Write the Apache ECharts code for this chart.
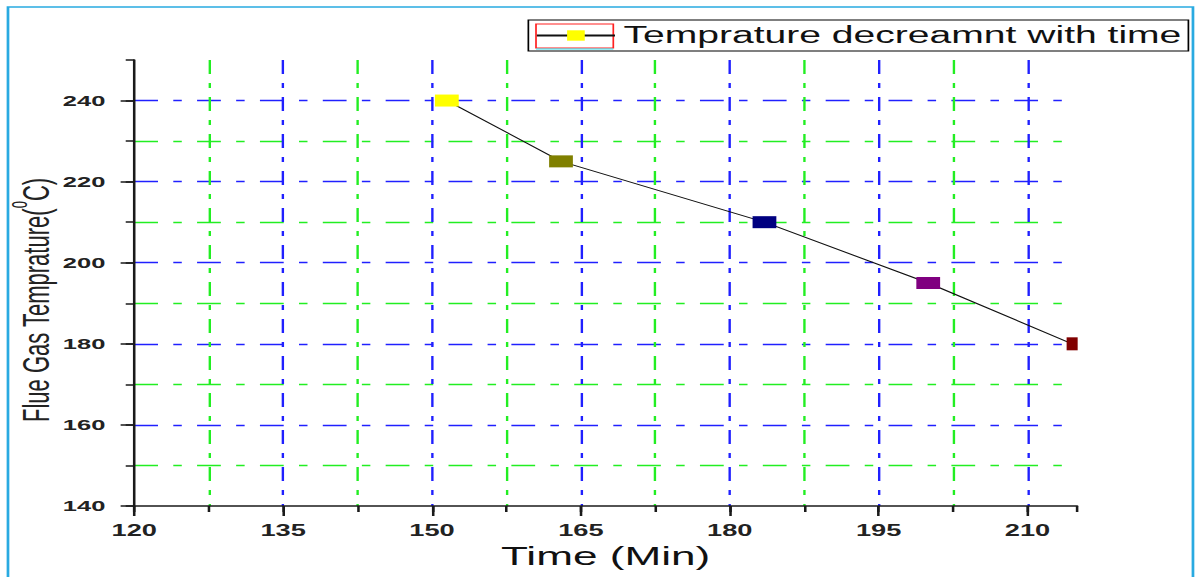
<!DOCTYPE html>
<html>
<head>
<meta charset="utf-8">
<title>Flue gas temperature</title>
<script src="https://cdn.jsdelivr.net/npm/echarts@6/dist/echarts.min.js"></script>
<style>
  html, body { margin: 0; padding: 0; background: #fff; overflow: hidden; }
  /* the source plot is a horizontally stretched export, so the chart is drawn narrow and stretched */
  #chart { width: 704px; height: 577px; transform: scaleX(1.6989); transform-origin: 0 0; }
</style>
</head>
<body>
<div id="chart"></div>
<script>
// data
const timeMin = [151.5, 163, 183.5, 200, 214.5];
const flueTemp = [240, 225, 210, 195, 180];
const markerColors = ["#ffff00", "#808000", "#000080", "#800080", "#800000"];

const FONT = "'Liberation Sans', Arial, sans-serif";
const BLUE = "#2020ff";
const GREEN = "#22ee22";
const DASH = [14, 9, 5, 9];

const chart = echarts.init(document.getElementById("chart"), null, { renderer: "svg" });

const option = {
  animation: false,
  backgroundColor: "#fff",
  grid: { left: 79, right: 70, top: 60, bottom: 71, outerBoundsMode: "none" },
  legend: {
    left: 311,
    top: 20,
    padding: [4, 4],
    itemWidth: 46,
    itemHeight: 13,
    itemGap: 5,
    borderColor: "#000",
    borderWidth: 1,
    borderRadius: 0,
    textStyle: { fontFamily: FONT, fontSize: 23, color: "#111", width: 340 },
    data: ["Temprature decreamnt with time"],
  },
  xAxis: [
    {
      type: "value",
      min: 120,
      max: 215,
      interval: 15,
      name: "Time (Min)",
      nameLocation: "middle",
      nameGap: 37,
      nameMoveOverlap: false,
      nameTextStyle: { fontFamily: FONT, fontSize: 26, color: "#111" },
      axisLine: { show: true, lineStyle: { color: "#1a1a1a", width: 1.5 } },
      axisTick: { show: true, length: 10, lineStyle: { color: "#1a1a1a", width: 1.5 } },
      axisLabel: {
        margin: 17,
        showMaxLabel: false,
        fontFamily: FONT,
        fontSize: 16,
        fontWeight: "bold",
        color: "#222",
      },
      splitLine: { show: false },
    },
    {
      // finer axis for the alternating grid and the short ticks
      type: "value",
      position: "bottom",
      offset: 0,
      min: 120,
      max: 215,
      interval: 7.5,
      axisLine: { show: false },
      axisTick: { show: true, length: 6, lineStyle: { color: "#1a1a1a", width: 1.5 } },
      axisLabel: { show: false },
      splitLine: {
        show: true,
        showMinLine: false,
        showMaxLine: false,
        lineStyle: { color: [GREEN, BLUE], width: 1.4, type: DASH },
      },
    },
  ],
  yAxis: [
    {
      type: "value",
      min: 140,
      max: 250,
      interval: 20,
      name: "{m|Flue Gas Temprature(}{sup|0}{m|C)}",
      nameLocation: "middle",
      nameGap: 47,
      nameMoveOverlap: false,
      nameTextStyle: {
        padding: [0, 34, 0, 0],
        rich: {
          m: { fontFamily: FONT, fontSize: 22, lineHeight: 27, color: "#222", verticalAlign: "bottom" },
          sup: { fontFamily: FONT, fontSize: 13, lineHeight: 13, color: "#222", verticalAlign: "top" },
        },
      },
      axisLine: { show: true, lineStyle: { color: "#1a1a1a", width: 1.5 } },
      axisTick: { show: true, length: 8, lineStyle: { color: "#1a1a1a", width: 1.5 } },
      axisLabel: {
        margin: 17,
        showMaxLabel: false,
        fontFamily: FONT,
        fontSize: 15,
        fontWeight: "bold",
        color: "#222",
      },
      splitLine: { show: false },
    },
    {
      type: "value",
      position: "left",
      offset: 0,
      min: 140,
      max: 250,
      interval: 10,
      axisLine: { show: false },
      axisTick: { show: true, length: 5, lineStyle: { color: "#1a1a1a", width: 1.5 } },
      axisLabel: { show: false },
      splitLine: {
        show: true,
        showMinLine: false,
        showMaxLine: false,
        lineStyle: { color: [GREEN, BLUE], width: 1.4, type: DASH },
      },
    },
  ],
  series: [
    {
      name: "Temprature decreamnt with time",
      type: "line",
      xAxisIndex: 0,
      yAxisIndex: 0,
      symbol: "rect",
      symbolSize: (val, params) => (params.dataIndex === timeMin.length - 1 ? [6.5, 13] : [14, 12]),
      lineStyle: { color: "#111", width: 1 },
      itemStyle: { color: markerColors[0] },
      data: timeMin.map((t, i) => ({
        value: [t, flueTemp[i]],
        itemStyle: { color: markerColors[i] },
      })),
    },
  ],
  graphic: [
    {
      // outer frame of the figure
      type: "rect",
      silent: true,
      shape: { x: 4.7, y: 7, width: 697.5, height: 600 },
      style: { fill: null, stroke: "#29aae1", lineWidth: 1.6 },
    },
    {
      type: "rect",
      silent: true,
      shape: { x: 315.5, y: 24, width: 45.5, height: 24 },
      style: { fill: null, stroke: "#ff2020", lineWidth: 1 },
    },
    {
      type: "line",
      silent: true,
      shape: { x1: 315.5, y1: 49, x2: 361, y2: 49 },
      style: { stroke: "#22e0f0", lineWidth: 1 },
    },
  ],
};

chart.setOption(option);
window.addEventListener("resize", () => chart.resize());
</script>
</body>
</html>
